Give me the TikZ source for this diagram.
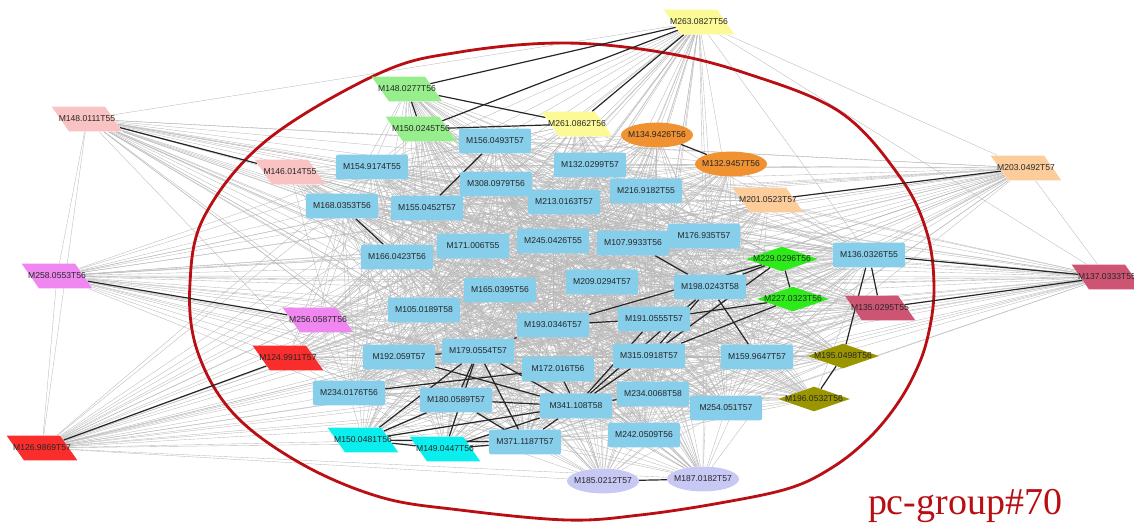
\documentclass[tikz,border=0pt]{standalone}
\usepackage{fontspec}
\setmainfont{Liberation Sans}
\newfontfamily\grpfont{Liberation Serif}
\usetikzlibrary{shapes.geometric,backgrounds}

\definecolor{massblue}{RGB}{135,206,235}
\definecolor{lgreen}{RGB}{150,238,140}
\definecolor{lyellow}{RGB}{252,250,150}
\definecolor{dorange}{RGB}{240,145,50}
\definecolor{lpink}{RGB}{250,195,195}
\definecolor{lpeach}{RGB}{252,205,155}
\definecolor{lviolet}{RGB}{240,135,240}
\definecolor{lred}{RGB}{250,45,45}
\definecolor{lcrimson}{RGB}{205,85,115}
\definecolor{dgreen}{RGB}{45,235,25}
\definecolor{dolive}{RGB}{155,150,0}
\definecolor{lcyan}{RGB}{10,238,238}
\definecolor{lavend}{RGB}{200,200,245}
\definecolor{grpred}{RGB}{185,15,20}

\begin{document}
\begin{tikzpicture}[x=0.025cm,y=-0.025cm,
    font=\fontsize{6.1}{7}\selectfont,
    massbox/.style={rectangle,rounded corners=1.5pt,fill=massblue,text=black!85,
      minimum width=1.8cm,minimum height=0.62cm,inner sep=0pt},
    para/.style={trapezium,trapezium left angle=125,trapezium right angle=55,
      inner xsep=0.45cm,inner ysep=0.31cm,minimum size=0pt},
    dia/.style={diamond,minimum width=1.8cm,minimum height=0.62cm,inner sep=0pt},
    oval/.style={ellipse,minimum width=1.8cm,minimum height=0.62cm,inner sep=0pt},
    every label/.style={inner sep=0pt,text=black!85},
    mesh/.style={draw=gray!55,line width=0.25pt},
    strong/.style={draw=black!85,line width=0.85pt}]
    \useasboundingbox (0,0) rectangle (1134,522);

    % blue boxes
    \node[massbox] (m156) at (495,141) {M156.0493T57};
    \node[massbox] (m154) at (372,167) {M154.9174T55};
    \node[massbox] (m132a) at (590,165) {M132.0299T57};
    \node[massbox] (m308) at (496,184) {M308.0979T56};
    \node[massbox] (m216) at (646,191) {M216.9182T55};
    \node[massbox] (m168) at (342,206) {M168.0353T56};
    \node[massbox] (m155) at (427,208) {M155.0452T57};
    \node[massbox] (m213) at (564,202) {M213.0163T57};
    \node[massbox] (m171) at (473,246) {M171.006T55};
    \node[massbox] (m245) at (553,241) {M245.0426T55};
    \node[massbox] (m107) at (633,243) {M107.9933T56};
    \node[massbox] (m176) at (704,236) {M176.935T57};
    \node[massbox] (m166) at (397,257) {M166.0423T56};
    \node[massbox] (m209) at (602,282) {M209.0294T57};
    \node[massbox] (m165) at (500,290) {M165.0395T56};
    \node[massbox] (m198) at (710,287) {M198.0243T58};
    \node[massbox] (m105) at (424,310) {M105.0189T58};
    \node[massbox] (m193) at (553,325) {M193.0346T57};
    \node[massbox] (m191) at (654,319) {M191.0555T57};
    \node[massbox] (m192) at (399,357) {M192.059T57};
    \node[massbox] (m179) at (478,351) {M179.0554T57};
    \node[massbox] (m172) at (558,369) {M172.016T56};
    \node[massbox] (m315) at (649,356) {M315.0918T57};
    \node[massbox] (m159) at (757,357) {M159.9647T57};
    \node[massbox] (m234a) at (349,393) {M234.0176T56};
    \node[massbox] (m234b) at (653,394) {M234.0068T58};
    \node[massbox] (m180) at (456,400) {M180.0589T57};
    \node[massbox] (m341) at (576,406) {M341.108T58};
    \node[massbox] (m254) at (726,408) {M254.051T57};
    \node[massbox] (m242) at (644,435) {M242.0509T56};
    \node[massbox] (m371) at (525,442) {M371.1187T57};
    \node[massbox] (m136) at (869,255) {M136.0326T55};

    % coloured nodes
    \node[para,fill=lyellow,label=center:M263.0827T56] (m263) at (699,22) {};
    \node[para,fill=lgreen,label=center:M148.0277T56] (m148a) at (407,89) {};
    \node[para,fill=lgreen,label=center:M150.0245T56] (m150a) at (421,129) {};
    \node[para,fill=lyellow,label=center:M261.0862T56] (m261) at (577,124) {};
    \node[oval,fill=dorange,label=center:M134.9426T56] (m134) at (657,135) {};
    \node[oval,fill=dorange,label=center:M132.9457T56] (m132b) at (731,164) {};
    \node[para,fill=lpink,label=center:M148.0111T55] (m148b) at (87,119) {};
    \node[para,fill=lpink,label=center:M146.014T55] (m146) at (290,172) {};
    \node[para,fill=lpeach,label=center:M203.0492T57] (m203) at (1026,168) {};
    \node[para,fill=lpeach,label=center:M201.0523T57] (m201) at (768,200) {};
    \node[para,fill=lviolet,label=center:M258.0553T56] (m258) at (57,276) {};
    \node[para,fill=lviolet,label=center:M256.0587T56] (m256) at (318,320) {};
    \node[para,fill=lred,label=center:M124.9911T57] (m124) at (288,358) {};
    \node[para,fill=lred,label=center:M126.9869T57] (m126) at (42,448) {};
    \node[para,fill=lcrimson,label=center:M137.0333T55] (m137) at (1107,277) {};
    \node[para,fill=lcrimson,label=center:M135.0295T55] (m135) at (880,308) {};
    \node[dia,fill=dgreen,label=center:M229.0296T56] (m229) at (782,259) {};
    \node[dia,fill=dgreen,label=center:M227.0323T56] (m227) at (793,299) {};
    \node[dia,fill=dolive,label=center:M195.0498T56] (m195) at (843,356) {};
    \node[dia,fill=dolive,label=center:M196.0532T56] (m196) at (814,399) {};
    \node[para,fill=lcyan,label=center:M150.0481T56] (m150b) at (363,440) {};
    \node[para,fill=lcyan,label=center:M149.0447T56] (m149) at (445,449) {};
    \node[oval,fill=lavend,label=center:M185.0212T57] (m185) at (603,481) {};
    \node[oval,fill=lavend,label=center:M187.0182T57] (m187) at (703,479) {};

    \node[text=grpred,font=\grpfont\fontsize{27}{30}\selectfont,anchor=base] (grp) at (965,514) {pc-group\#70};

    \begin{pgfonlayer}{background}
    % light mesh
    \foreach \a in {m263,m148a,m150a,m261,m134,m132b,m148b,m146,m203,m201,m258,m256,
                    m124,m126,m137,m135,m229,m227,m195,m196,m150b,m149,m185,m187}
      \foreach \b in {m156,m154,m132a,m308,m216,m168,m155,m213,m171,m245,m107,m176,
                      m166,m209,m165,m198,m105,m193,m191,m192,m179,m172,m315,m159,
                      m234a,m234b,m180,m341,m254,m242,m371,m136}
        \path[mesh] (\a) -- (\b);
    \foreach \a [count=\i] in {m156,m154,m132a,m308,m216,m168,m155,m213,m171,m245,m107,
                               m176,m166,m209,m165,m198,m105,m193,m191,m192,m179,m172,
                               m315,m159,m234a,m234b,m180,m341,m254,m242,m371,m136}
      \foreach \b [count=\j] in {m156,m154,m132a,m308,m216,m168,m155,m213,m171,m245,m107,
                                 m176,m166,m209,m165,m198,m105,m193,m191,m192,m179,m172,
                                 m315,m159,m234a,m234b,m180,m341,m254,m242,m371,m136}
        {\ifnum\j>\i \path[mesh] (\a) -- (\b); \fi}
    \foreach \a/\b in {m148b/m263,m148b/m258,m148b/m126,m258/m126,m263/m203,m263/m137,
                       m203/m137,m126/m187,m258/m137,m148b/m203,m126/m185,m148b/m229}
      \path[mesh] (\a) -- (\b);

    % group outline
    \draw[grpred,line width=2pt] plot[smooth cycle,tension=0.6] coordinates {
      (562,43) (660,52) (745,73) (840,112) (900,177) (927,233) (934,290) (927,340)
      (913,377) (893,410) (867,440) (833,467) (790,488) (720,503) (640,515) (567,520)
      (460,510) (380,497) (300,463) (233,413) (197,350) (190,283) (205,215) (267,140)
      (380,73) (460,52)};

    % strong links
    \foreach \a/\b in {m148b/m146,m263/m148a,m263/m150a,m263/m261,m148a/m150a,
                       m148a/m261,m150a/m261,m134/m132b,m156/m155,m168/m166,m203/m201,
                       m258/m256,m124/m126,m136/m137,m135/m137,m136/m135,m136/m195,
                       m195/m196,m229/m227,m185/m187,m107/m198,m229/m198,m229/m193,
                       m227/m191,m227/m315,m229/m315,m198/m159,m198/m341,m198/m315,
                       m191/m193,m193/m179,m192/m179,m179/m180,m179/m149,m179/m371,
                       m179/m341,m192/m341,m234a/m172,m180/m150b,m180/m371,m180/m341,
                       m150b/m149,m150b/m371,m150b/m341,m149/m371,m149/m341,m371/m341,
                       m341/m315,m341/m234b,m341/m191,m172/m341,m150b/m179}
      \draw[strong] (\a) -- (\b);
    \end{pgfonlayer}
\end{tikzpicture}
\end{document}
